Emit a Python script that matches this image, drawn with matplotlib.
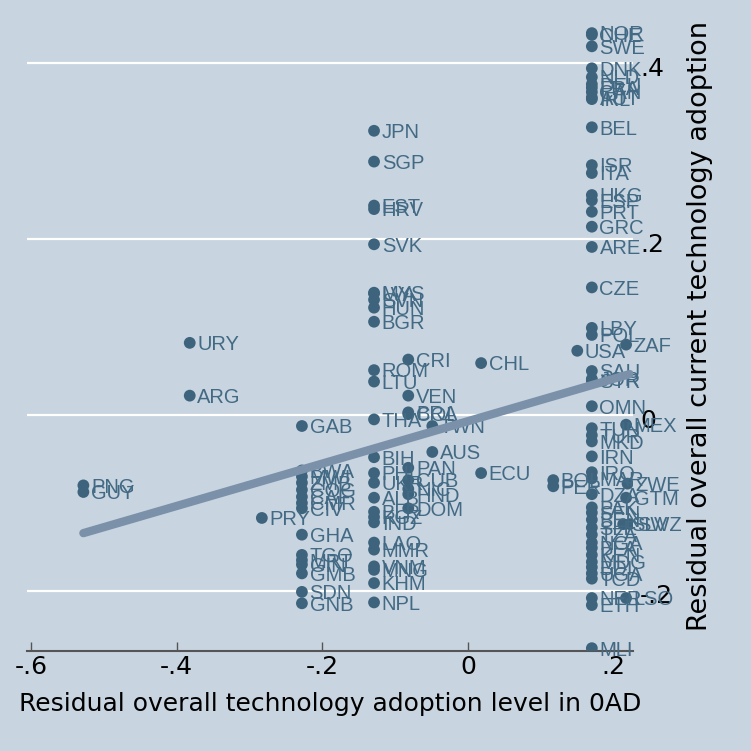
import numpy as np
import matplotlib
matplotlib.use("Agg")
import matplotlib.pyplot as plt
from matplotlib.transforms import ScaledTranslation

plt.rcParams['font.family'] = ['Liberation Sans', 'DejaVu Sans']

# ---- data ----
codes = [
    # right column
    "NOR", "CHE", "SWE", "DNK", "NLD", "DEU", "FRA", "CAN", "AUT", "IRL", "BEL",
    "ISR", "ITA", "HKG", "ESP", "PRT", "GRC", "ARE", "CZE", "LBY", "POL",
    "SAU", "JOR", "SYR", "OMN", "TUN", "TUR", "MKD", "IRN", "IRQ", "MAR",
    "DZA", "PAK", "SEN", "BEN", "SLE", "TZA", "NGA", "BFA", "KEN", "MDG",
    "BDI", "UGA", "TCD", "NER", "ETH", "MLI",
    "MEX", "ZAF", "ZWE", "GTM", "SLV", "SWZ", "LSO", "USA", "BOL", "PER",
    # centre column
    "JPN", "SGP", "EST", "HRV", "SVK", "MYS", "LVA", "SVN", "HUN", "BGR",
    "ROM", "LTU", "THA", "BIH", "PHL", "UKR", "ALB", "BLR", "KGZ", "IND",
    "LAO", "MMR", "VNM", "MNG", "KHM", "NPL",
    "CRI", "VEN", "BRA", "COL", "PAN", "CUB", "NIC", "HND", "DOM",
    "TWN", "AUS", "CHL", "ECU",
    # left part
    "GAB", "BWA", "MWI", "ZMB", "COG", "CAF", "CMR", "CIV", "GHA",
    "TGO", "MRT", "GIN", "GMB", "SDN", "GNB",
    "PRY", "URY", "ARG", "PNG", "GUY",
]

x_resid = [
    0.170, 0.170, 0.170, 0.170, 0.170, 0.170, 0.170, 0.170, 0.170, 0.170, 0.170,
    0.170, 0.170, 0.170, 0.170, 0.170, 0.170, 0.170, 0.170, 0.170, 0.170,
    0.170, 0.170, 0.170, 0.170, 0.170, 0.170, 0.170, 0.170, 0.170, 0.170,
    0.170, 0.170, 0.170, 0.170, 0.170, 0.170, 0.170, 0.170, 0.170, 0.170,
    0.170, 0.170, 0.170, 0.170, 0.170, 0.170,
    0.217, 0.217, 0.219, 0.217, 0.213, 0.222, 0.217, 0.150, 0.117, 0.117,
    -0.129, -0.129, -0.129, -0.129, -0.129, -0.129, -0.129, -0.129, -0.129, -0.129,
    -0.129, -0.129, -0.129, -0.129, -0.129, -0.129, -0.129, -0.129, -0.129, -0.129,
    -0.129, -0.129, -0.129, -0.129, -0.129, -0.129,
    -0.082, -0.082, -0.082, -0.082, -0.082, -0.082, -0.082, -0.082, -0.082,
    -0.049, -0.049, 0.018, 0.018,
    -0.228, -0.228, -0.228, -0.228, -0.228, -0.228, -0.228, -0.228, -0.228,
    -0.228, -0.228, -0.228, -0.228, -0.228, -0.228,
    -0.283, -0.382, -0.382, -0.528, -0.528,
]

y_resid = [
    0.434, 0.432, 0.419, 0.394, 0.384, 0.376, 0.372, 0.367, 0.361, 0.359, 0.327,
    0.284, 0.275, 0.250, 0.244, 0.231, 0.214, 0.191, 0.145, 0.099, 0.091,
    0.050, 0.041, 0.039, 0.010, -0.015, -0.023, -0.030, -0.047, -0.065, -0.072,
    -0.090, -0.105, -0.111, -0.119, -0.128, -0.136, -0.145, -0.151, -0.159, -0.167,
    -0.173, -0.180, -0.186, -0.208, -0.216, -0.265,
    -0.011, 0.080, -0.078, -0.094, -0.124, -0.124, -0.208, 0.073, -0.074, -0.081,
    0.323, 0.288, 0.238, 0.234, 0.194, 0.139, 0.138, 0.131, 0.122, 0.106,
    0.051, 0.038, -0.005, -0.048, -0.066, -0.077, -0.094, -0.110, -0.116, -0.122,
    -0.145, -0.153, -0.172, -0.176, -0.191, -0.213,
    0.063, 0.022, 0.003, 0.001, -0.060, -0.074, -0.084, -0.090, -0.106,
    -0.0125, -0.042, 0.059, -0.066,
    -0.0125, -0.063, -0.070, -0.077, -0.085, -0.093, -0.100, -0.106, -0.136,
    -0.159, -0.165, -0.170, -0.180, -0.201, -0.214,
    -0.117, 0.082, 0.022, -0.080, -0.0875,
]

# linear fit shown in the chart (slope, intercept)
fit_slope = 0.241
fit_intercept = -0.007

x_ticks = [-0.6, -0.4, -0.2, 0.0, 0.2]
x_ticklabels = ["-.6", "-.4", "-.2", "0", ".2"]
y_ticks = [-0.2, 0.0, 0.2, 0.4]
y_ticklabels = ["-.2", "0", ".2", ".4"]
x_title = "Residual overall technology adoption level in 0AD"
y_title = "Residual overall current technology adoption"

# ---- style ----
BG = "#C8D4E0"
MARK = "#3E647D"
LABC = "#436A84"
FIT = "#7A91A9"
AXFONT = "DejaVu Sans"

W = 751
fig = plt.figure(figsize=(7.51, 7.51), dpi=100, facecolor=BG)
ax = fig.add_axes([27/W, 100/W, 606/W, 628/W], facecolor=BG)

x = np.array(x_resid)
y = np.array(y_resid)

ax.set_xlim(-0.6054, 0.2265)
ax.set_ylim(-0.2682, 0.4455)

for yt in y_ticks:
    ax.axhline(yt, color="white", lw=1.6, zorder=1)

ax.scatter(x, y, s=72, color=MARK, edgecolors="none", zorder=3)
for cx, cy, lab in zip(x, y, codes):
    ax.annotate(lab, (cx, cy), xytext=(5.5, -5.3), textcoords="offset points",
                ha="left", va="baseline", fontsize=14.5, color=LABC, zorder=3)

xf = np.array([x.min(), x.max()])
ax.plot(xf, fit_intercept + fit_slope * xf, color=FIT, lw=6,
        solid_capstyle="round", zorder=4)

for s in ["left", "top", "right"]:
    ax.spines[s].set_visible(False)
ax.spines["bottom"].set_color("#555555")
ax.spines["bottom"].set_linewidth(1.5)

ax.set_xticks(x_ticks)
ax.set_xticklabels(x_ticklabels, family=AXFONT)
ax.tick_params(axis="x", direction="in", length=6.5, width=1.0, color="#555555",
               labelsize=18, pad=3, labelcolor="black")
ax.set_yticks(y_ticks)
ax.set_yticklabels(y_ticklabels, family=AXFONT)
ax.yaxis.tick_right()
ax.tick_params(axis="y", length=0, labelsize=18, pad=5, labelcolor="black")
for lab in ax.get_yticklabels():
    lab.set_transform(lab.get_transform() + ScaledTranslation(0, -3/100, fig.dpi_scale_trans))

fig.text(330/W, (W - 711)/W, x_title, family=AXFONT, fontsize=18,
         ha="center", va="baseline", color="black")
fig.text(707/W, (W - 326)/W, y_title, family=AXFONT, fontsize=19.5,
         ha="center", va="baseline", rotation=90, rotation_mode="anchor",
         color="black")

fig.savefig("out.png", dpi=100, facecolor=BG)
